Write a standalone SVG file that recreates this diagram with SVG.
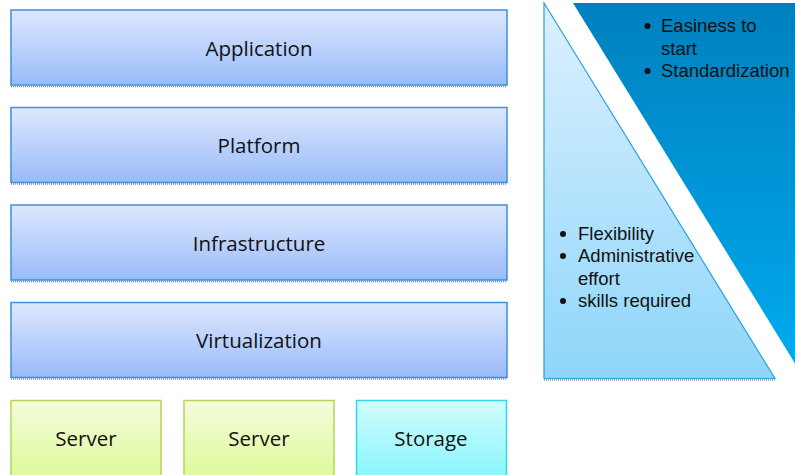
<svg xmlns="http://www.w3.org/2000/svg" width="795" height="475" viewBox="0 0 795 475">
<defs>
<linearGradient id="gBlue" x1="0" y1="0" x2="0" y2="1">
<stop offset="0" stop-color="#DDE8FE"/>
<stop offset="1" stop-color="#99BBF9"/>
</linearGradient>
<linearGradient id="gGreen" x1="0" y1="0" x2="0" y2="1">
<stop offset="0" stop-color="#F5FCDC"/>
<stop offset="1" stop-color="#DEF99A"/>
</linearGradient>
<linearGradient id="gCyan" x1="0" y1="0" x2="0" y2="1">
<stop offset="0" stop-color="#D2FCFE"/>
<stop offset="1" stop-color="#88F6FC"/>
</linearGradient>
<linearGradient id="gLight" x1="0" y1="0" x2="0" y2="1">
<stop offset="0" stop-color="#DDF0FE"/>
<stop offset="1" stop-color="#8ED6FA"/>
</linearGradient>
<linearGradient id="gDark" x1="0" y1="0" x2="0" y2="1">
<stop offset="0" stop-color="#0080BE"/>
<stop offset="1" stop-color="#00AAEE"/>
</linearGradient>
</defs>
<style>
.layer{fill:url(#gBlue);stroke:#3D8FE0;stroke-width:1.5}
.shadow{stroke:#8A8A8A;stroke-width:1.5;stroke-dasharray:1 1}
.srv{fill:url(#gGreen);stroke:#B6D35A;stroke-width:1.5}
.sto{fill:url(#gCyan);stroke:#2ED8E8;stroke-width:1.5}
.lbl{font-family:"Open Sans","Liberation Sans",sans-serif;font-size:20.5px;fill:#111;text-anchor:middle}
.bul{font-family:"Liberation Sans",Arial,sans-serif;font-size:18.5px;fill:#111}
.dot{fill:#111}
</style>
<g id="application">
<line class="shadow" x1="11" y1="86.5" x2="507" y2="86.5"/>
<rect class="layer" x="11" y="10" width="496" height="75"/>
<text class="lbl" x="259" y="56">Application</text>
</g>
<g id="platform">
<line class="shadow" x1="11" y1="184" x2="507" y2="184"/>
<rect class="layer" x="11" y="107.5" width="496" height="75"/>
<text class="lbl" x="259" y="153">Platform</text>
</g>
<g id="infrastructure">
<line class="shadow" x1="11" y1="281.5" x2="507" y2="281.5"/>
<rect class="layer" x="11" y="205" width="496" height="75"/>
<text class="lbl" x="259" y="251">Infrastructure</text>
</g>
<g id="virtualization">
<line class="shadow" x1="11" y1="379" x2="507" y2="379"/>
<rect class="layer" x="11" y="302.5" width="496" height="75"/>
<text class="lbl" x="259" y="348">Virtualization</text>
</g>
<g id="server1">
<rect class="srv" x="11" y="400.5" width="150" height="76"/>
<text class="lbl" x="86" y="446">Server</text>
</g>
<g id="server2">
<rect class="srv" x="184" y="400.5" width="150" height="76"/>
<text class="lbl" x="259" y="446">Server</text>
</g>
<g id="storage">
<rect class="sto" x="356.5" y="400.5" width="150" height="76"/>
<text class="lbl" x="431" y="446">Storage</text>
</g>
<g id="flexibility">
<line class="shadow" x1="544" y1="380" x2="775" y2="380"/>
<polygon points="544,3 775,378.5 544,378.5" fill="url(#gLight)" stroke="#2A9FDB" stroke-width="1.2"/>
<circle class="dot" cx="563" cy="234" r="3"/><text class="bul" x="578" y="240">Flexibility</text>
<circle class="dot" cx="563" cy="256" r="3"/><text class="bul" x="578" y="262">Administrative</text>
<text class="bul" x="578" y="285">effort</text>
<circle class="dot" cx="563" cy="301" r="3"/><text class="bul" x="578" y="307">skills required</text>
</g>
<g id="easiness">
<polygon points="573,3 796,3 796,365" fill="url(#gDark)"/>
<circle class="dot" cx="647.5" cy="26" r="3"/><text class="bul" x="661" y="32">Easiness to</text>
<text class="bul" x="661" y="55">start</text>
<circle class="dot" cx="647.5" cy="71" r="3"/><text class="bul" x="661" y="77">Standardization</text>
</g>
<g id="connectors"></g>
</svg>
